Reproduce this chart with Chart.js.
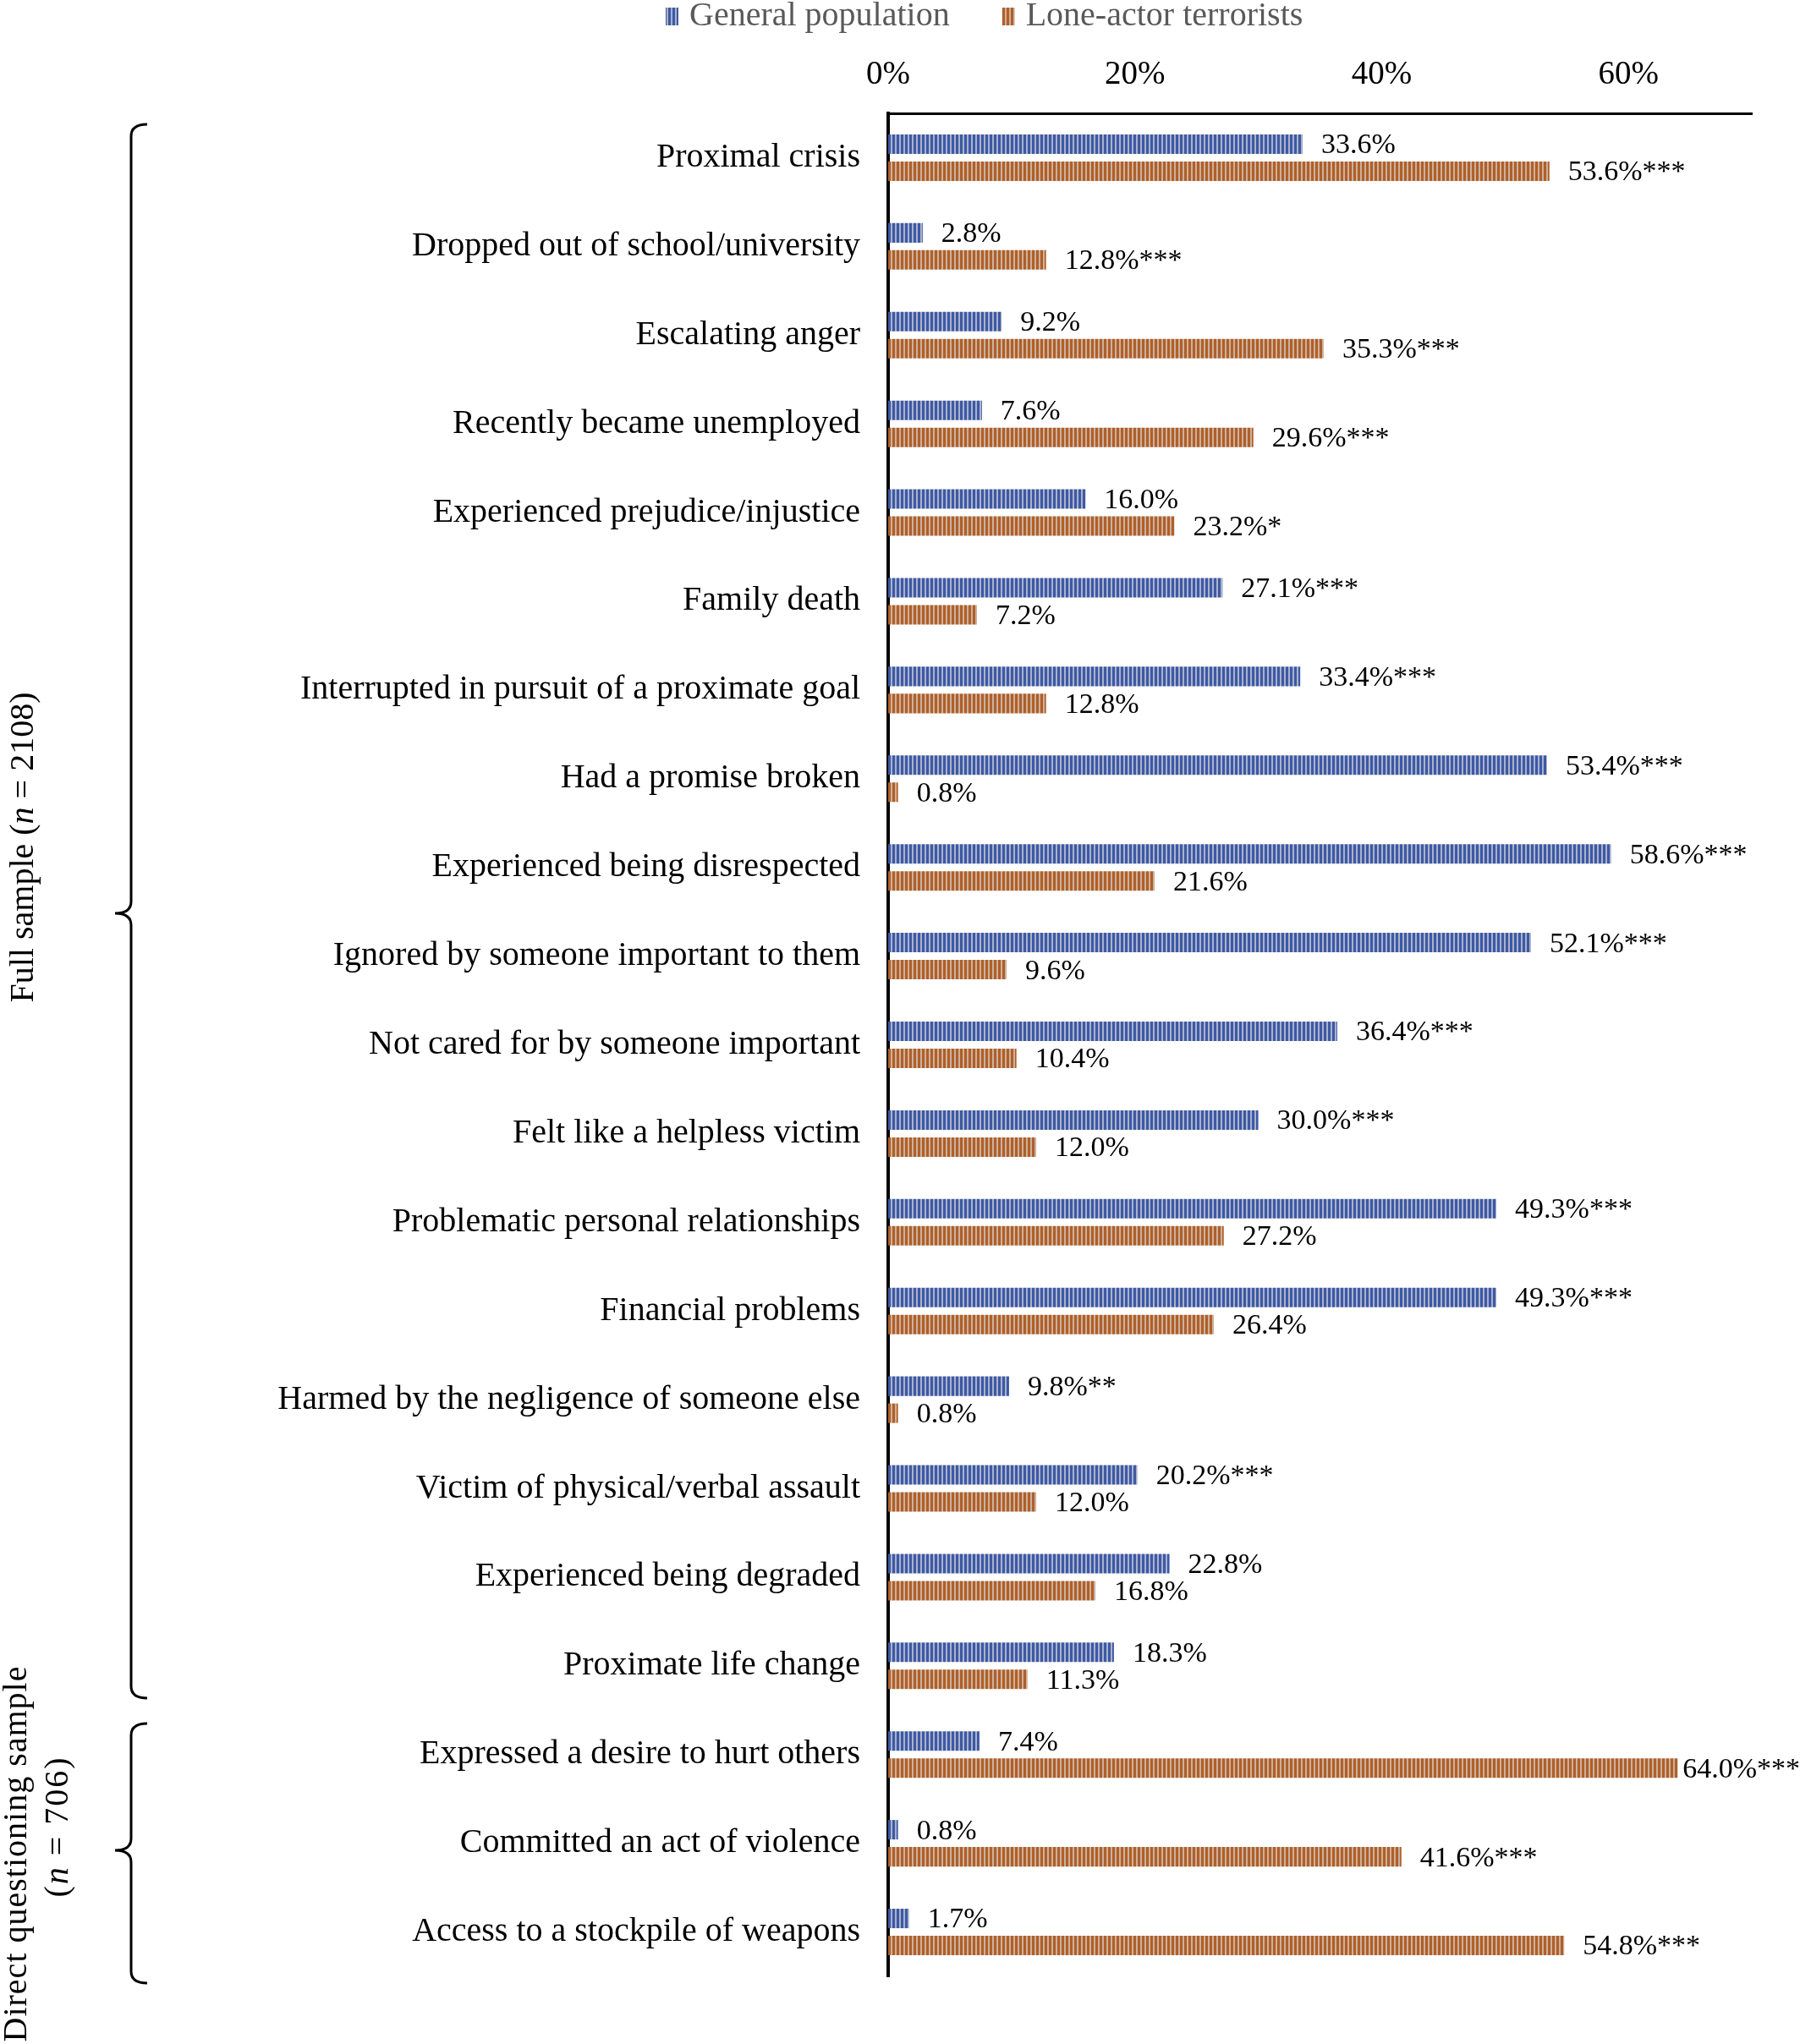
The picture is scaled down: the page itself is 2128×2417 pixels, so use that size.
<!DOCTYPE html>
<html>
<head>
<meta charset="utf-8">
<script src="https://cdn.jsdelivr.net/npm/chart.js@4.4.1/dist/chart.umd.min.js"></script>
<style>
  html, body { margin: 0; padding: 0; background: #fff; }
  #wrap { width: 2128px; height: 2417px; }
</style>
</head>
<body>
<div id="wrap"><canvas id="myChart" width="2128" height="2417"></canvas></div>
<script>
// categories, top to bottom
const categories = [
  'Proximal crisis',
  'Dropped out of school/university',
  'Escalating anger',
  'Recently became unemployed',
  'Experienced prejudice/injustice',
  'Family death',
  'Interrupted in pursuit of a proximate goal',
  'Had a promise broken',
  'Experienced being disrespected',
  'Ignored by someone important to them',
  'Not cared for by someone important',
  'Felt like a helpless victim',
  'Problematic personal relationships',
  'Financial problems',
  'Harmed by the negligence of someone else',
  'Victim of physical/verbal assault',
  'Experienced being degraded',
  'Proximate life change',
  'Expressed a desire to hurt others',
  'Committed an act of violence',
  'Access to a stockpile of weapons'
];

const generalPop = [33.6, 2.8, 9.2, 7.6, 16.0, 27.1, 33.4, 53.4, 58.6, 52.1, 36.4, 30.0, 49.3, 49.3, 9.8, 20.2, 22.8, 18.3, 7.4, 0.8, 1.7];
const loneActor = [53.6, 12.8, 35.3, 29.6, 23.2, 7.2, 12.8, 0.8, 21.6, 9.6, 10.4, 12.0, 27.2, 26.4, 0.8, 12.0, 16.8, 11.3, 64.0, 41.6, 54.8];

// significance markers next to the value labels
const generalPopStars = ['', '', '', '', '', '***', '***', '***', '***', '***', '***', '***', '***', '***', '**', '***', '', '', '', '', ''];
const loneActorStars = ['***', '***', '***', '***', '*', '', '', '', '', '', '', '', '', '', '', '', '', '', '***', '***', '***'];

const seriesNames = ['General population', 'Lone-actor terrorists'];
const tickValues = [0, 20, 40, 60];

const serif = '"Liberation Serif", "Times New Roman", serif';

// vertical striped fill like the original
function stripes(color, light) {
  const c = document.createElement('canvas');
  c.width = 5; c.height = 10;
  const g = c.getContext('2d');
  g.fillStyle = light;
  g.fillRect(0, 0, 5, 10);
  g.fillStyle = color;
  g.fillRect(0, 0, 3, 10);
  return document.getElementById('myChart').getContext('2d').createPattern(c, 'repeat');
}

const bluePattern = stripes('#3d59a6', '#aab2ca');
const orangePattern = stripes('#b15f27', '#cbb19f');

const starSets = [generalPopStars, loneActorStars];

const valueLabels = {
  id: 'valueLabels',
  afterDatasetsDraw(chart) {
    const ctx = chart.ctx;
    ctx.save();
    ctx.font = '34px ' + serif;
    ctx.fillStyle = '#000';
    ctx.textBaseline = 'middle';
    ctx.textAlign = 'left';
    chart.data.datasets.forEach((ds, di) => {
      const meta = chart.getDatasetMeta(di);
      meta.data.forEach((bar, i) => {
        const txt = ds.data[i].toFixed(1) + '%' + starSets[di][i];
        const w = ctx.measureText(txt).width;
        let x = bar.x + 22;
        if (x + w > chart.width) x = chart.width - w;
        ctx.fillText(txt, x, bar.y + 2);
      });
    });
    ctx.restore();
  }
};

const extras = {
  id: 'extras',
  afterDraw(chart) {
    const ctx = chart.ctx;
    ctx.save();

    // legend
    ctx.font = '40px ' + serif;
    ctx.textBaseline = 'middle';
    let x = 787;
    const cy = 19;
    [bluePattern, orangePattern].forEach((p, i) => {
      ctx.fillStyle = p;
      ctx.fillRect(x, cy - 10, 15, 21);
      x += 28;
      ctx.fillStyle = '#595959';
      ctx.fillText(seriesNames[i], x, cy);
      x += ctx.measureText(seriesNames[i]).width + 62;
    });

    // braces
    ctx.strokeStyle = '#000';
    ctx.lineWidth = 3;
    function brace(xl, top, mid, bottom) {
      const r = 14;
      ctx.beginPath();
      ctx.moveTo(xl + 19, top);
      ctx.quadraticCurveTo(xl, top, xl, top + r);
      ctx.lineTo(xl, mid - r);
      ctx.quadraticCurveTo(xl, mid, xl - 19, mid);
      ctx.quadraticCurveTo(xl, mid, xl, mid + r);
      ctx.lineTo(xl, bottom - r);
      ctx.quadraticCurveTo(xl, bottom, xl + 19, bottom);
      ctx.stroke();
    }
    brace(155, 147, 1080, 2008);
    brace(155, 2038, 2188, 2345);

    // rotated group labels
    ctx.fillStyle = '#000';
    function vtext(parts, cx, cy, spacing) {
      ctx.save();
      ctx.translate(cx, cy);
      ctx.rotate(-Math.PI / 2);
      ctx.letterSpacing = spacing || '0px';
      ctx.textBaseline = 'middle';
      let total = 0;
      parts.forEach(p => { ctx.font = p[1] + '40px ' + serif; total += ctx.measureText(p[0]).width; });
      let px = -total / 2;
      ctx.textAlign = 'left';
      parts.forEach(p => {
        ctx.font = p[1] + '40px ' + serif;
        ctx.fillText(p[0], px, 0);
        px += ctx.measureText(p[0]).width;
      });
      ctx.restore();
    }
    vtext([['Full sample (', ''], ['n', 'italic '], [' = 2108)', '']], 28, 1002);
    vtext([['Direct questioning sample', '']], 20, 2192, '1px');
    vtext([['(', ''], ['n', 'italic '], [' = 706)', '']], 69, 2160, '2px');

    ctx.restore();
  }
};

const myChart = new Chart(document.getElementById('myChart'), {
  type: 'bar',
  data: {
    labels: categories,
    datasets: [
      { label: seriesNames[0], data: generalPop, backgroundColor: bluePattern, borderWidth: 0 },
      { label: seriesNames[1], data: loneActor, backgroundColor: orangePattern, borderWidth: 0 }
    ]
  },
  options: {
    indexAxis: 'y',
    responsive: false,
    animation: false,
    devicePixelRatio: 1,
    categoryPercentage: 0.61,
    barPercentage: 0.72,
    layout: { padding: { left: 0, right: 57, top: 0, bottom: 80 } },
    plugins: {
      legend: { display: false },
      tooltip: { enabled: false }
    },
    scales: {
      x: {
        position: 'top',
        min: 0,
        max: 70,
        afterBuildTicks: s => { s.ticks = tickValues.map(v => ({ value: v })); },
        afterFit: s => { s.height = 134; },
        grid: { display: false, drawTicks: false },
        border: { color: '#000', width: 3 },
        ticks: {
          padding: 22,
          color: '#000',
          font: { family: serif, size: 39 },
          callback: v => v + '%'
        }
      },
      y: {
        afterFit: s => { s.width = 1050; },
        grid: { display: false, drawTicks: false },
        border: { color: '#000', width: 4 },
        ticks: {
          padding: 33,
          color: '#000',
          font: { family: serif, size: 40 }
        }
      }
    }
  },
  plugins: [valueLabels, extras]
});
</script>
</body>
</html>
